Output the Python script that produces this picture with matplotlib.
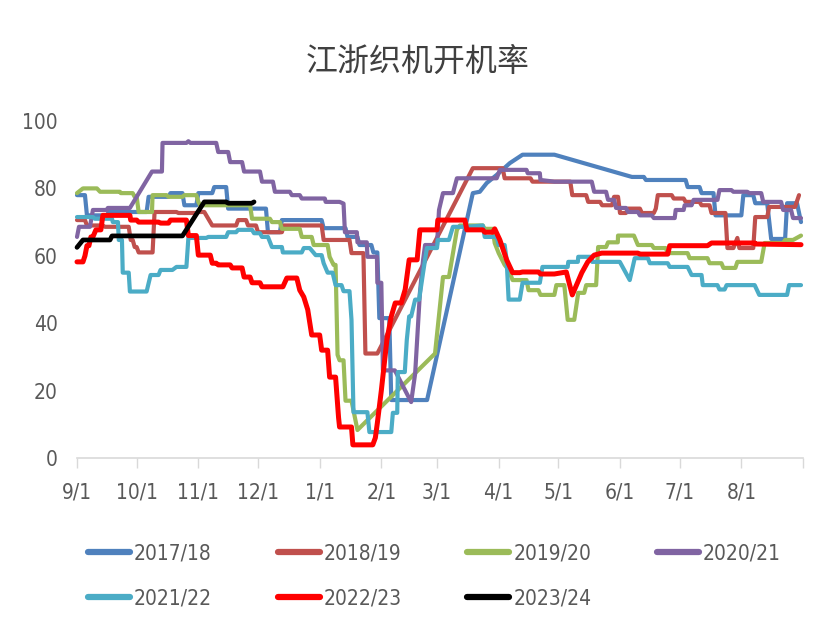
import matplotlib
matplotlib.use("Agg")
import matplotlib.pyplot as plt
from matplotlib import font_manager

# ---------------- data (day offset from 9/1, value) ----------------
month_labels = ["9/1", "10/1", "11/1", "12/1", "1/1", "2/1", "3/1",
                "4/1", "5/1", "6/1", "7/1", "8/1"]
month_days = [0, 30, 61, 91, 122, 153, 181, 212, 242, 273, 303, 334]
series_names = ["2017/18", "2018/19", "2019/20", "2020/21",
                "2021/22", "2022/23", "2023/24"]

s2017 = [(0,78),(4,78),(5,72),(15,72),(16,73),(35,73),(36,77.5),(46,77.5),(47,78.6),(53,78.6),
         (54,75),(60,75),(61,78.6),(68,78.6),(69,80.4),(75,80.4),(76,74),(95,74),(96,67),(102,67),
         (103,70.6),(123,70.6),(124,68.2),(135,68.2),(136,65.6),(141,65.6),(142,63.2),(148,63.2),
         (149,61),(151,61),(152,41.5),(157,41.5),(158,17.2),(176,17.2),(199,78.6),(202.5,79),
         (206,81.6),(211,84),(217.6,87.5),(224,90),(240,90),(279,83.4),(285,83.4),(286,82.5),
         (306,82.5),(307,80.4),(313,80.4),(314,78.6),(320,78.6),(321,72),(334,72),(335,78),(340,78),
         (341,75.6),(347,75.6),(349,65),(356,65),(357,75.6),(362,75.6),(364,70)]

s2018 = [(0,70.6),(4,70.6),(5,69),(13,69),(14,68.6),(26,68.6),(27,64.7),(28,64.7),(29,62.6),(30,62.6),
         (31,61),(38,61),(39,73),(50,73),(51,72.7),(60,72.7),(61,73),(64,73),(68,69),(80,69),(81,70.6),
         (85,70.6),(86,69),(90,69),(91,67),(103,67),(104,69),(123,69),(124,64.7),(137,64.7),(138,60.8),
         (144,60.8),(145,31),(151,31),(199,86),(214,86),(215,83),(228,83),(229,82),(248,82),(249,78),
         (256,78),(257,76),(263,76),(264,75),(269,75),(270,77.5),(272,77.5),(273,72.7),(276,72.7),
         (277,74),(283,74),(284,72.7),(290,72.7),(291,74),(292,78),(299,78),(300,77),(305,77),(306,76),
         (313,76),(314,75),(318,75),(319,72.7),(326,72.7),(327,62.3),(330,62.3),(332,65.3),(333,62.3),
         (340,62.3),(341,71.5),(347,71.5),(348,74.5),(361,74.5),(363,78)]

s2019 = [(0,78.6),(3,80),(10,80),(11.6,79),(21.6,79),(22,78.6),(28,78.6),(29,77.5),(30,77.5),(31,73),
         (37.7,73),(38,78),(45,78),(46,77.5),(53,77.5),(54,78),(60,78),(61,76),(62,75),(87,75),(88,71),
         (97,71),(98,70),(102,70),(103,68),(112,68),(113,65.6),(118,65.6),(119,63.2),(126,63.2),
         (127,59.7),(129,57.3),(130,57.3),(131,30.6),(132,29),(134,29),(135,17),(138,17),(141,8.3),
         (180,31),(184,53.7),(187,53.7),(191,67.7),(192.5,69),(204,69),(205,68),(209,68),(210,63.8),
         (212,60.8),(215,57.3),(217,55.8),(219,52.8),(226,52.8),(227,49.8),(232,49.8),(233,48.4),
         (240,48.4),(241,51.3),(245,51.3),(246.7,41),(250,41),(252,49),(255,49),(256,51.3),(261,51.3),
         (262,62.6),(266,62.6),(267,64),(271.9,64),(272,66),(280,66),(282,63.2),(289,63.2),(290,62.3),
         (296,62.3),(297,60.8),(307,60.8),(308,59.3),(317,59.3),(318,57.8),(324,57.8),(325,56.4),
         (331,56.4),(332,58.2),(344,58.2),(345.7,63.8),(355,63.8),(356,64.7),(360,64.7),(364,66)]

s2020 = [(0,65.6),(1,68.6),(6.5,68.6),(8,73.6),(15,73.6),(15.5,74.2),(26.6,74.2),(37.7,85),(42.7,85),
         (43,93.5),(55,93.5),(56,94),(57,93.5),(70,93.5),(71,90.8),(76,90.8),(77,87.8),(83,87.8),(84,85),
         (92,85),(93,82),(98.5,82),(99.5,79),(107,79),(108,78),(112,78),(113,77),(124.6,77),(125,76),
         (132,76),(134,75.5),(134.7,67),(140.7,67),(141,64),(145.7,64),(146,59.7),(150.8,59.7),(151,52),
         (153,52),(153.8,26),(159.8,26),(168,16.6),(170,25),(172.4,49),(174,58.8),(175,63.2),(181,63.2),
         (182,73.6),(184,78.6),(189,78.6),(191,83),(211,83),(212.6,85.5),(226,85.5),(226.6,84.5),
         (232.7,84.5),(233,82.5),(240,82),(258.8,82),(260,79),(266,79),(267,76.6),(270,76.6),(271,74.2),
         (276,74.2),(277,73),(282,73),(283,72),(289,72),(290,71.2),(300.5,71.2),(301,73.6),(305,73.6),
         (305.5,75),(309,75),(310,76.6),(322,76.6),(323,79.5),(329,79.5),(330,79),(337,79),(338,78.6),
         (344,78.6),(345,76),(354,76),(355,73.6),(359,73.6),(360,71.2),(364,71.2)]

s2021 = [(0,71.5),(8,71.5),(9,71),(17.6,71),(18,70),(20.6,70),(21,64.7),(22.6,64.7),(23,55),(26,55),
         (26.6,49.4),(35,49.4),(37,54.3),(41,54.3),(42,55.8),(48,55.8),(50,56.7),(55,56.7),(56,65.3),
         (65,65.3),(66,65.6),(75,65.6),(76,67),(80,67),(81,67.7),(88,67.7),(89,66.7),(92,66.7),(93,65.6),
         (96,65.6),(98,62.6),(103,62.6),(103.5,61),(113,61),(114,62.3),(117,62.3),(120,60.2),(123,60.2),
         (124,57.8),(126,55),(128.5,55),(130,51.3),(133,51.3),(134,49.5),(137,49.5),(138,41),(139,13.6),
         (146,13.6),(147,7.7),(158,7.7),(158.8,13.4),(161,13.4),(161.3,25.5),(164.8,25.5),(165.8,35),
         (167,42),(168,42),(170,47),(172,47),(174,55),(175.9,62.3),(181,62.3),(181.4,64.7),(187,64.7),
         (189,68.6),(196,68.6),(204,69),(205,65.6),(211,65.6),(212,63.2),(215,63.2),(216,58.8),(217,47),
         (222.6,47),(224,52),(232.7,52),(234,56.7),(246.7,56.7),(247,58.2),(251.8,58.2),(252,59.7),
         (258.8,59.7),(259,58.2),(272.9,58.2),(277.9,52.8),(280.4,59.3),(287,59.3),(288,57.8),(297,57.8),
         (298,56.7),(307,56.7),(309,54.3),(314,54.3),(314.6,51.3),(322,51.3),(323,50),(325.6,50),
         (326.6,51.3),(340.7,51.3),(343,48.4),(357,48.4),(358,51.3),(364,51.3)]

s2022 = [(0,58.2),(3,58.2),(4,60),(5,63),(6,63),(7,65.6),(8,65.6),(9.5,67.7),(12,67.7),(13,72),
         (26.6,72),(27,70.6),(30,70.6),(31,70),(41,70),(42,69.7),(46,69.7),(47,70.6),(55,70.6),(56,66),
         (60,66),(61,60.2),(67,60.2),(68,57.8),(70,57.8),(71,57.3),(77,57.3),(78,56.4),(83,56.4),
         (84,53.7),(87,53.7),(88,52),(92,52),(93,50.8),(103.5,50.8),(105.5,53.4),(110.5,53.4),(112,49.8),
         (114,47.8),(116,44),(118,36.5),(122,36.5),(123,32),(126,32),(127,24),(130,24),(131.5,12),
         (132,9.2),(138,9.2),(138.7,3.9),(148.7,3.9),(150,6),(151,10.4),(153,20),(155.8,35),(158,42),
         (160,46),(163,46),(165,50),(167,58.8),(171,58.8),(172.4,67.7),(181,67.7),(181.4,70.6),
         (195,70.6),(196,67.7),(204,67.7),(205,67),(209,67),(210,68),(212.6,64.7),(216,58.8),(219,55),
         (222.6,55),(224,55.2),(232,55.2),(233,54.6),(240,54.6),(246,55.2),(249,48.4),(253.8,55),
         (256.8,58.2),(260,60.2),(263.8,60.8),(282,60.8),(283,60.5),(297,60.5),(298,63),(317,63),
         (319,63.8),(340.7,63.8),(341,63.5),(364,63.3)]

s2023 = [(0,62.5),(3,64.7),(16.6,64.7),(17.6,65.9),(53,65.9),(64,76),(75,76),(76,75.6),(88,75.6),(89,76)]

all_series = [s2017, s2018, s2019, s2020, s2021, s2022, s2023]
colors = ["#4F81BD", "#C0504D", "#9BBB59", "#8064A2", "#4BACC6", "#FF0000", "#000000"]
widths = [3.0, 3.0, 3.0, 3.0, 3.0, 3.6, 3.4]

# ---------------- fonts ----------------
from matplotlib.font_manager import FontProperties, findfont
cond_path = findfont(FontProperties(family="DejaVu Sans", stretch="condensed"))
avail = {f.name for f in font_manager.fontManager.ttflist}
narrow_names = [n for n in avail if ("Narrow" in n or "Condensed" in n)]
if "Condensed" in cond_path:
    tick_props = dict(family=["DejaVu Sans"], stretch="condensed")
    tsize = 15
elif narrow_names:
    tick_props = dict(family=[sorted(narrow_names)[0], "DejaVu Sans"])
    tsize = 16
else:
    tick_props = dict(family=["Liberation Sans", "DejaVu Sans"])
    tsize = 14.5
cjk_font = ["Noto Sans CJK SC", "DejaVu Sans"]
text_color = "#595959"

fig = plt.figure(figsize=(8.18, 6.29), dpi=100)
ax = fig.add_axes([77/818, 1-458/629, (803-77)/818, (458-121)/629])

handles = []
for data, name, c, w in zip(all_series, series_names, colors, widths):
    xs = [p[0] for p in data]
    ys = [p[1] for p in data]
    ln, = ax.plot(xs, ys, color=c, lw=w, label=name, solid_joinstyle="round",
                  solid_capstyle="round", clip_on=False)
    handles.append(ln)

ax.set_xlim(0, 365)
ax.set_ylim(0, 100)
ax.set_yticks([0, 20, 40, 60, 80, 100])
ax.set_xticks(month_days + [365])
ax.set_xticklabels(month_labels + [""])
for s in ["top", "right", "left"]:
    ax.spines[s].set_visible(False)
ax.spines["bottom"].set_color("#D9D9D9")
ax.spines["bottom"].set_linewidth(1.2)
ax.tick_params(axis="x", length=7, width=1, color="#D9D9D9", pad=11,
               labelsize=tsize, labelcolor=text_color)
ax.tick_params(axis="y", length=0, pad=14, labelsize=tsize, labelcolor=text_color)
for lab in ax.get_xticklabels() + ax.get_yticklabels():
    lab.set_fontproperties(FontProperties(size=tsize, **tick_props))

fig.text(418/818, 1-62/629, "江浙织机开机率", ha="center", va="center",
         fontsize=23, color="#404040", family=cjk_font)

# legend rows: 2017..2020 on the first row, 2021..2023 on the second
order = [0, 4, 1, 5, 2, 6, 3]
leg = fig.legend(handles=[handles[i] for i in order],
                 labels=[series_names[i] for i in order], ncol=4, loc="center left",
                 bbox_to_anchor=(82/818, 1-576/629), frameon=False,
                 prop=FontProperties(size=tsize, **tick_props),
                 handlelength=2.0, handletextpad=0.2, columnspacing=3.15,
                 labelspacing=1.2, borderaxespad=0, borderpad=0.3)
for t in leg.get_texts():
    t.set_color(text_color)
for lh in leg.get_lines():
    lh.set_linewidth(4.5)
    lh.set_solid_capstyle("round")

fig.savefig("out.png", dpi=100)
